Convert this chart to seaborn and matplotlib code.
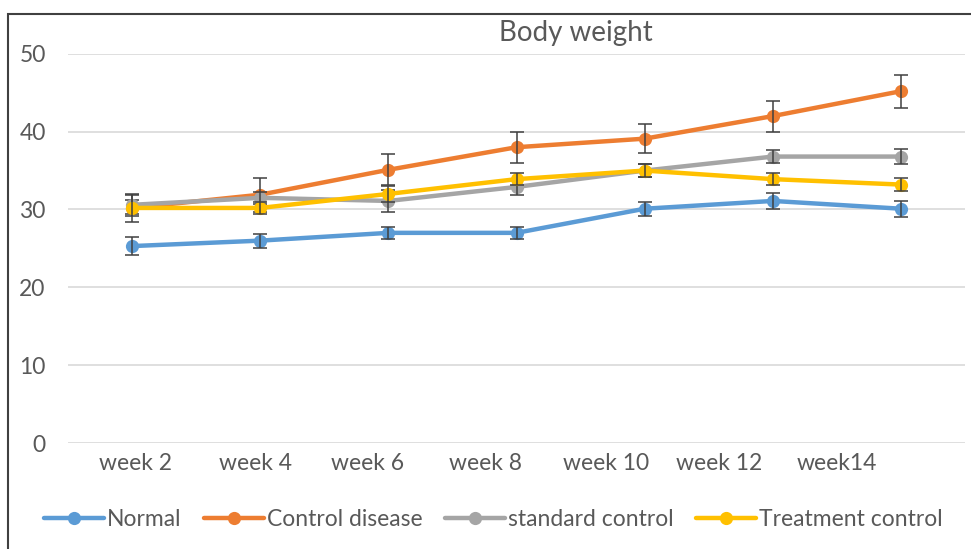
import seaborn as sns
import matplotlib.pyplot as plt
import pandas as pd
from matplotlib.lines import Line2D
from matplotlib.patches import Rectangle

weeks = ["week 2", "week 4", "week 6", "week 8", "week 10", "week 12", "week14"]
groups = ["Normal", "Control disease", "standard control", "Treatment control"]

normal = [25.3, 26.0, 27.0, 27.0, 30.1, 31.1, 30.1]
normal_err = [1.2, 0.9, 0.8, 0.8, 0.9, 1.0, 1.0]
disease = [30.2, 31.9, 35.1, 38.0, 39.1, 42.0, 45.2]
disease_err = [1.0, 2.2, 2.0, 2.0, 1.9, 2.0, 2.1]
standard = [30.6, 31.5, 31.1, 32.9, 35.0, 36.8, 36.8]
standard_err = [1.2, 0.8, 1.4, 1.0, 0.8, 0.8, 1.0]
treatment = [30.2, 30.2, 32.0, 33.9, 35.0, 33.9, 33.2]
treatment_err = [1.8, 0.8, 1.0, 0.8, 0.8, 0.8, 0.8]

# where the week labels sit under the axis (they drift from the points in the original)
label_pos = [0.027, 0.966, 1.84, 2.76, 3.70, 4.58, 5.50]

colors = ["#5B9BD5", "#ED7D31", "#A5A5A5", "#FFC000"]
txt = "#595959"

values = [normal, disease, standard, treatment]
errors = [normal_err, disease_err, standard_err, treatment_err]

rows = []
for g, vals, errs in zip(groups, values, errors):
    for i, (v, e) in enumerate(zip(vals, errs)):
        rows.append({"idx": i, "week": weeks[i], "group": g, "weight": v, "err": e})
df = pd.DataFrame(rows)

sns.set_style("white")
plt.rcParams['font.family'] = ['Lato', 'DejaVu Sans']

fig = plt.figure(figsize=(9.71, 5.49), dpi=100)
ax = fig.add_axes([0.070, 0.193, 0.924, 0.709])

for k, g in enumerate(groups):
    sub = df[df["group"] == g]
    sns.lineplot(data=sub, x="idx", y="weight", color=colors[k], linewidth=3.2,
                 marker="o", markersize=9.5, markeredgewidth=0, ax=ax, zorder=3 + k)
    ax.errorbar(sub["idx"], sub["weight"], yerr=sub["err"], fmt="none",
                ecolor="#404040", elinewidth=1.1, capsize=5, capthick=1.1, zorder=3 + k)

ax.set_xlim(-0.5, 6.5)
ax.set_ylim(0, 50)
ax.set_yticks(range(0, 51, 10))
ax.yaxis.grid(True, color="#d9d9d9", linewidth=1.2)
ax.set_xticks(label_pos)
ax.set_xticklabels(weeks)
ax.tick_params(axis="x", length=0, pad=7, labelsize=16.5, labelcolor=txt)
ax.tick_params(axis="y", length=0, pad=16, labelsize=16.5, labelcolor=txt)
ax.set_xlabel("")
ax.set_ylabel("")
sns.despine(ax=ax, left=True, bottom=True)

fig.text(0.593, 0.94, "Body weight", ha="center", va="center", fontsize=20, color=txt)

handles = [Line2D([0], [0], color=c, linewidth=3.2, marker="o", markersize=9.5, markeredgewidth=0)
           for c in colors]
fig.legend(handles, groups, loc="center", bbox_to_anchor=(0.508, 0.0546), ncol=4,
           frameon=False, fontsize=16.5, labelcolor=txt, handlelength=2.6,
           handletextpad=0.13, columnspacing=1.0)

fig.patches.append(Rectangle((0.0082, -0.1), 1.2, 0.9745 + 0.1, transform=fig.transFigure,
                             fill=False, edgecolor="#404040", linewidth=1.5, clip_on=False))

fig.savefig("out.png", dpi=100)
